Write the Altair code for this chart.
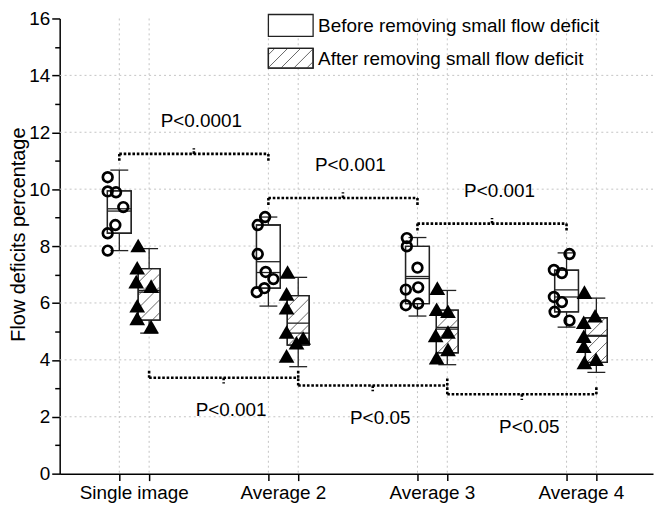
import altair as alt
import pandas as pd

# ---------------- data ----------------
categories = ["Single image", "Average 2", "Average 3", "Average 4"]
series = ["before", "after"]

before_values = [
    [10.42, 9.92, 9.89, 9.37, 8.74, 8.45, 7.84],
    [9.02, 8.74, 7.72, 7.09, 6.84, 6.52, 6.38],
    [8.28, 7.99, 7.24, 6.55, 6.47, 5.98, 5.92],
    [7.72, 7.16, 7.05, 6.21, 6.03, 5.69, 5.38],
]
after_values = [
    [8.02, 7.24, 6.75, 6.59, 5.90, 5.46, 5.17],
    [7.09, 6.32, 5.83, 4.98, 4.77, 4.60, 4.14],
    [6.52, 5.78, 5.71, 4.98, 4.86, 4.37, 4.08],
    [6.38, 5.55, 5.32, 4.83, 4.48, 4.02, 3.91],
]
# horizontal scatter of the points (pixels, relative to box centre)
before_jitter = [
    [-11.7, -11.7, -3.3, 4, -4, -11.7, -11.7],
    [-3.3, -10.7, -10.7, -2.7, 5, -4, -11.7],
    [-10.7, -10.7, 0, 0.7, -11.7, 0.7, -11.7],
    [3, -12.7, -4.7, -12.7, -4.7, -12, 3],
]
after_jitter = [
    [-11, -12, -13, 2, -12, -12, 2],
    [-10.7, -11.7, -11.7, -11.7, 5, -1.7, -11.7],
    [-10, -10.7, 0.7, 0.7, -11.7, 0.7, -10.7],
    [-12, -1.3, -12.7, -12.7, -12.7, -0.3, -12],
]

before_q1 = [8.45, 6.52, 5.98, 5.69]
before_q3 = [9.94, 8.74, 7.99, 7.15]
before_median = [9.23, 7.07, 6.86, 6.21]
before_mean = [9.31, 7.45, 6.93, 6.46]
before_wlo = [7.84, 5.89, 5.54, 5.15]
before_whi = [10.67, 9.02, 8.30, 7.76]

after_q1 = [5.40, 4.52, 4.25, 3.91]
after_q3 = [7.21, 6.26, 5.75, 5.48]
after_median = [6.38, 4.94, 5.08, 4.83]
after_mean = [6.44, 5.29, 5.14, 4.86]
after_wlo = [4.94, 3.76, 3.83, 3.56]
after_whi = [7.91, 6.90, 6.44, 6.17]

top_levels = [11.24, 9.69, 8.79]
top_labels = ["P<0.0001", "P<0.001", "P<0.001"]
bottom_levels = [3.37, 3.10, 2.79]
bottom_labels = ["P<0.001", "P<0.05", "P<0.05"]

legend_labels = ["Before removing small flow deficit", "After removing small flow deficit"]
y_title = "Flow deficits percentage"

# ---------------- layout ----------------
W, H = 597, 458
XMIN, XMAX = 0.5, 4.48
YMIN, YMAX = 0, 16
PX_X = W / (XMAX - XMIN)
PX_Y = H / (YMAX - YMIN)
OFF = 0.1
BOX_W = {"before": 0.16, "after": 0.147}
CAP_W = 0.12
FONT = "Liberation Sans"
FS = 19

xs = alt.Scale(domain=[XMIN, XMAX], nice=False, zero=False)
ys = alt.Scale(domain=[YMIN, YMAX], nice=False, zero=False)

box_positions = []
for i in range(len(categories)):
    box_positions += [i + 1 - OFF, i + 1 + OFF]

xaxis = alt.Axis(title=None, values=box_positions, labels=False, grid=False,
                 tickSize=7, tickWidth=1.5, tickColor="black",
                 domainColor="black", domainWidth=1.5)
yaxis = alt.Axis(title=y_title, values=list(range(0, 17)), grid=False,
                 labelExpr="datum.value % 2 == 0 ? datum.label : ''",
                 tickSize={"condition": {"test": "datum.value % 2 == 1", "value": 5}, "value": 8},
                 tickWidth=1.5, tickColor="black", domainColor="black", domainWidth=1.5,
                 labelPadding=2, labelFontSize=FS, titleFontSize=20,
                 titleX=-35, titleY=217, titleBaseline="alphabetic")

def X(f):
    return alt.X(f, type="quantitative", scale=xs, axis=xaxis)

def Y(f):
    return alt.Y(f, type="quantitative", scale=ys, axis=yaxis)

# ---------------- tables ----------------
stats = {
    "before": (before_q1, before_q3, before_median, before_mean, before_wlo, before_whi),
    "after": (after_q1, after_q3, after_median, after_mean, after_wlo, after_whi),
}
box_rows, line_rows, seg_rows, hatch_rows = [], [], [], []
for s in series:
    q1s, q3s, meds, means, wlos, whis = stats[s]
    for i in range(len(categories)):
        pos = i + 1 + (-OFF if s == "before" else OFF)
        hw = BOX_W[s] / 2
        box_rows.append(dict(series=s, left=pos - hw, right=pos + hw, q1=q1s[i], q3=q3s[i]))
        for v in (meds[i], means[i]):
            line_rows.append(dict(left=pos - hw, right=pos + hw, v=v))
        seg_rows += [
            dict(x=pos, x2=pos, y=q3s[i], y2=whis[i]),
            dict(x=pos, x2=pos, y=wlos[i], y2=q1s[i]),
            dict(x=pos - CAP_W / 2, x2=pos + CAP_W / 2, y=whis[i], y2=whis[i]),
            dict(x=pos - CAP_W / 2, x2=pos + CAP_W / 2, y=wlos[i], y2=wlos[i]),
        ]
        if s == "after":
            wpx = 2 * hw * PX_X
            hpx = (q3s[i] - q1s[i]) * PX_Y
            step = 13.0
            k = wpx - step * 0.6
            while k > -hpx:
                u1, u2 = max(0.0, k), min(wpx, hpx + k)
                if u2 - u1 > 1:
                    hatch_rows.append(dict(
                        x=pos - hw + u1 / PX_X, y=q1s[i] + (u1 - k) / PX_Y,
                        x2=pos - hw + u2 / PX_X, y2=q1s[i] + (u2 - k) / PX_Y))
                k -= step

pt_rows = []
for i in range(len(categories)):
    for v, j in zip(before_values[i], before_jitter[i]):
        pt_rows.append(dict(series="before", x=i + 1 - OFF + j / PX_X, v=v))
    for v, j in zip(after_values[i], after_jitter[i]):
        pt_rows.append(dict(series="after", x=i + 1 + OFF + j / PX_X, v=v))
pts = pd.DataFrame(pt_rows)

br_rows, ptxt_rows = [], []
for i, (L, lab) in enumerate(zip(top_levels, top_labels)):
    a, b = i + 1 - OFF, i + 2 - OFF
    m = (a + b) / 2
    br_rows += [dict(x=a, x2=b, y=L, y2=L), dict(x=a, x2=a, y=L, y2=L - 0.27),
                dict(x=b, x2=b, y=L, y2=L - 0.27), dict(x=m, x2=m, y=L, y2=L + 0.2)]
    ptxt_rows.append(dict(x=m + 0.05, y=L + 1.15, t=lab))
for i, (L, lab) in enumerate(zip(bottom_levels, bottom_labels)):
    a, b = i + 1 + OFF, i + 2 + OFF
    m = (a + b) / 2
    br_rows += [dict(x=a, x2=b, y=L, y2=L), dict(x=a, x2=a, y=L, y2=L + 0.28),
                dict(x=b, x2=b, y=L, y2=L + 0.28), dict(x=m, x2=m, y=L, y2=L - 0.2)]
    ptxt_rows.append(dict(x=m + 0.05, y=L - 1.15, t=lab))

# ---------------- layers ----------------
grid_kw = dict(color="#c4c4c4", strokeDash=[2, 3], strokeWidth=1)
hgrid = alt.Chart(pd.DataFrame({"v": list(range(2, 16, 2))})).mark_rule(**grid_kw).encode(
    y=Y("v"), x=alt.value(0), x2=alt.value(W))
vgrid = alt.Chart(pd.DataFrame({"p": box_positions})).mark_rule(**grid_kw).encode(
    x=X("p"), y=alt.value(0), y2=alt.value(H))

brackets = alt.Chart(pd.DataFrame(br_rows)).mark_rule(
    color="black", strokeWidth=2.6, strokeDash=[2.6, 1.8]).encode(
    x=X("x"), x2="x2:Q", y=Y("y"), y2="y2:Q")

boxes = alt.Chart(pd.DataFrame(box_rows)).mark_rect(
    fill="white", stroke="#222", strokeWidth=1.3).encode(
    x=X("left"), x2="right:Q", y=Y("q1"), y2="q3:Q")

hatch = alt.Chart(pd.DataFrame(hatch_rows)).mark_rule(color="#666", strokeWidth=1).encode(
    x=X("x"), x2="x2:Q", y=Y("y"), y2="y2:Q")

boxes_outline = alt.Chart(pd.DataFrame(box_rows)).mark_rect(
    fill="white", fillOpacity=0, stroke="#222", strokeWidth=1.3).encode(
    x=X("left"), x2="right:Q", y=Y("q1"), y2="q3:Q")

mlines = alt.Chart(pd.DataFrame(line_rows)).mark_rule(color="#222", strokeWidth=1.3).encode(
    x=X("left"), x2="right:Q", y=Y("v"))

whisk = alt.Chart(pd.DataFrame(seg_rows)).mark_rule(color="#222", strokeWidth=1.3).encode(
    x=X("x"), x2="x2:Q", y=Y("y"), y2="y2:Q")

circles = alt.Chart(pts[pts.series == "before"]).mark_point(
    shape="circle", filled=False, size=95, strokeWidth=2.7, color="black", opacity=1).encode(
    x=X("x"), y=Y("v"))
triangles = alt.Chart(pts[pts.series == "after"]).mark_point(
    shape="triangle-up", filled=True, size=250, color="black", opacity=1).encode(
    x=X("x"), y=Y("v"))

ptext = alt.Chart(pd.DataFrame(ptxt_rows)).mark_text(
    font=FONT, fontSize=FS, color="black", align="center", baseline="middle").encode(
    x=X("x"), y=Y("y"), text="t:N")

cat_df = pd.DataFrame({"c": [i + 1 for i in range(len(categories))], "name": categories})
cat_text = alt.Chart(cat_df).mark_text(
    font=FONT, fontSize=FS, color="black", align="center", baseline="alphabetic").encode(
    x=X("c"), y=alt.value(H + 25), text="name:N")

one = pd.DataFrame({"a": [0]})
leg = []
LX0, LX1 = 210, 255
for k, (t0, t1) in enumerate([(-4, 18), (30, 50)]):
    leg.append(alt.Chart(one).mark_rect(fill="white", stroke="#222", strokeWidth=1.3).encode(
        x=alt.value(LX0), x2=alt.value(LX1), y=alt.value(t0), y2=alt.value(t1)))
    leg.append(alt.Chart(one).mark_text(
        font=FONT, fontSize=FS, color="black", align="left", baseline="middle").encode(
        x=alt.value(LX1 + 5), y=alt.value((t0 + t1) / 2 + 1), text=alt.value(legend_labels[k])))
# hatch inside the second legend swatch
t0, t1 = 30, 50
wpx, hpx = LX1 - LX0, t1 - t0
k = wpx - 13 * 0.5
while k > -hpx:
    u1, u2 = max(0.0, k), min(wpx, hpx + k)
    if u2 - u1 > 1:
        leg.append(alt.Chart(one).mark_rule(color="#666", strokeWidth=1).encode(
            x=alt.value(LX0 + u1), y=alt.value(t1 - (u1 - k)),
            x2=alt.value(LX0 + u2), y2=alt.value(t1 - (u2 - k))))
    k -= 13
leg.append(alt.Chart(one).mark_rect(fill="white", fillOpacity=0, stroke="#222", strokeWidth=1.3).encode(
    x=alt.value(LX0), x2=alt.value(LX1), y=alt.value(t0), y2=alt.value(t1)))

chart = alt.layer(
    hgrid, vgrid, brackets, boxes, hatch, boxes_outline, mlines, whisk,
    circles, triangles, ptext, cat_text, *leg
).properties(
    width=W, height=H,
    autosize=alt.AutoSizeParams(type="none"),
    padding={"left": 52, "top": 9, "right": 2, "bottom": 29},
).configure_view(stroke=None).configure_axis(
    labelFont=FONT, titleFont=FONT, labelFontSize=FS, titleFontSize=20,
    labelColor="black", titleColor="black", titleFontWeight="normal",
)

chart.save("out.html", embed_options={"renderer": "svg", "actions": False})
